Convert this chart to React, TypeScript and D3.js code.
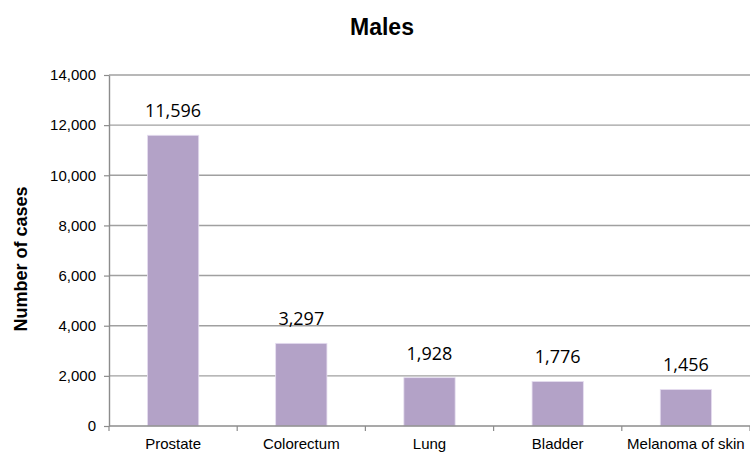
import React, { useEffect, useRef } from "react";
import * as d3 from "d3";

const categories = ["Prostate", "Colorectum", "Lung", "Bladder", "Melanoma of skin"];
const values = [11596, 3297, 1928, 1776, 1456];
const yTicks = [0, 2000, 4000, 6000, 8000, 10000, 12000, 14000];
const title = "Males";
const yLabel = "Number of cases";

const W = 750;
const H = 452;
const left = 109;
const right = 750;
const top = 75;
const bottom = 426;

export default function App() {
  const ref = useRef<SVGSVGElement | null>(null);

  useEffect(() => {
    const svg = d3.select(ref.current);
    svg.selectAll("*").remove();

    const x = d3.scaleBand<string>().domain(categories).range([left, right]).paddingInner(0.6).paddingOuter(0.3);
    const y = d3.scaleLinear().domain([0, 14000]).range([bottom, top]);
    const fmt = d3.format(",");

    // gridlines
    svg.append("g")
      .selectAll("line")
      .data(yTicks.filter((t) => t > 0))
      .join("line")
      .attr("x1", left)
      .attr("x2", right)
      .attr("y1", (d) => y(d))
      .attr("y2", (d) => y(d))
      .attr("stroke", "#a0a0a0")
      .attr("stroke-width", 1.4);

    // y axis
    const yAxis = d3.axisLeft(y).tickValues(yTicks).tickSize(5).tickSizeOuter(0).tickFormat((d) => fmt(d as number));
    const gy = svg.append("g").attr("transform", `translate(${left},0)`).call(yAxis);
    gy.select(".domain").attr("stroke", "#8c8c8c").attr("stroke-width", 1.4);
    gy.selectAll(".tick line").attr("stroke", "#8c8c8c").attr("stroke-width", 1.2);
    gy.selectAll(".tick text")
      .attr("x", -13)
      .attr("font-family", "'Liberation Sans', Arial, sans-serif")
      .attr("font-size", 15)
      .attr("fill", "#000");

    // bars
    svg.append("g")
      .selectAll("rect")
      .data(values)
      .join("rect")
      .attr("x", (_, i) => x(categories[i])!)
      .attr("width", x.bandwidth())
      .attr("y", (d) => y(d))
      .attr("height", (d) => y(0) - y(d))
      .attr("fill", "#b3a2c7")
      .attr("stroke", "#e6def0")
      .attr("stroke-width", 0.8);

    // value labels
    svg.append("g")
      .selectAll("text")
      .data(values)
      .join("text")
      .attr("x", (_, i) => x(categories[i])! + x.bandwidth() / 2)
      .attr("y", (d) => y(d) - 18)
      .attr("text-anchor", "middle")
      .attr("font-family", "'Open Sans', sans-serif")
      .attr("font-size", 18)
      .attr("fill", "#000")
      .text((d) => fmt(d));

    // x axis
    const step = x.step();
    const boundaries = d3.range(categories.length + 1).map((i) => left + i * step);
    svg.append("line")
      .attr("x1", left)
      .attr("x2", right)
      .attr("y1", bottom)
      .attr("y2", bottom)
      .attr("stroke", "#8c8c8c")
      .attr("stroke-width", 1.4);
    svg.append("g")
      .selectAll("line")
      .data(boundaries)
      .join("line")
      .attr("x1", (d) => d)
      .attr("x2", (d) => d)
      .attr("y1", bottom)
      .attr("y2", bottom + 5)
      .attr("stroke", "#8c8c8c")
      .attr("stroke-width", 1.2);
    svg.append("g")
      .selectAll("text")
      .data(categories)
      .join("text")
      .attr("x", (d) => x(d)! + x.bandwidth() / 2)
      .attr("y", 449)
      .attr("text-anchor", "middle")
      .attr("font-family", "'Liberation Sans', Arial, sans-serif")
      .attr("font-size", 15)
      .attr("fill", "#000")
      .text((d) => d);

    // title
    svg.append("text")
      .attr("x", 382)
      .attr("y", 35)
      .attr("text-anchor", "middle")
      .attr("font-family", "'Liberation Sans', Arial, sans-serif")
      .attr("font-weight", "bold")
      .attr("font-size", 23)
      .attr("fill", "#000")
      .text(title);

    // y label
    svg.append("text")
      .attr("transform", `translate(27,259) rotate(-90)`)
      .attr("text-anchor", "middle")
      .attr("font-family", "'Liberation Sans', Arial, sans-serif")
      .attr("font-weight", "bold")
      .attr("font-size", 18)
      .attr("fill", "#000")
      .text(yLabel);
  }, []);

  return (
    <svg
      ref={ref}
      width={W}
      height={H}
      style={{ position: "absolute", left: 0, top: 0, background: "#fff" }}
    />
  );
}
